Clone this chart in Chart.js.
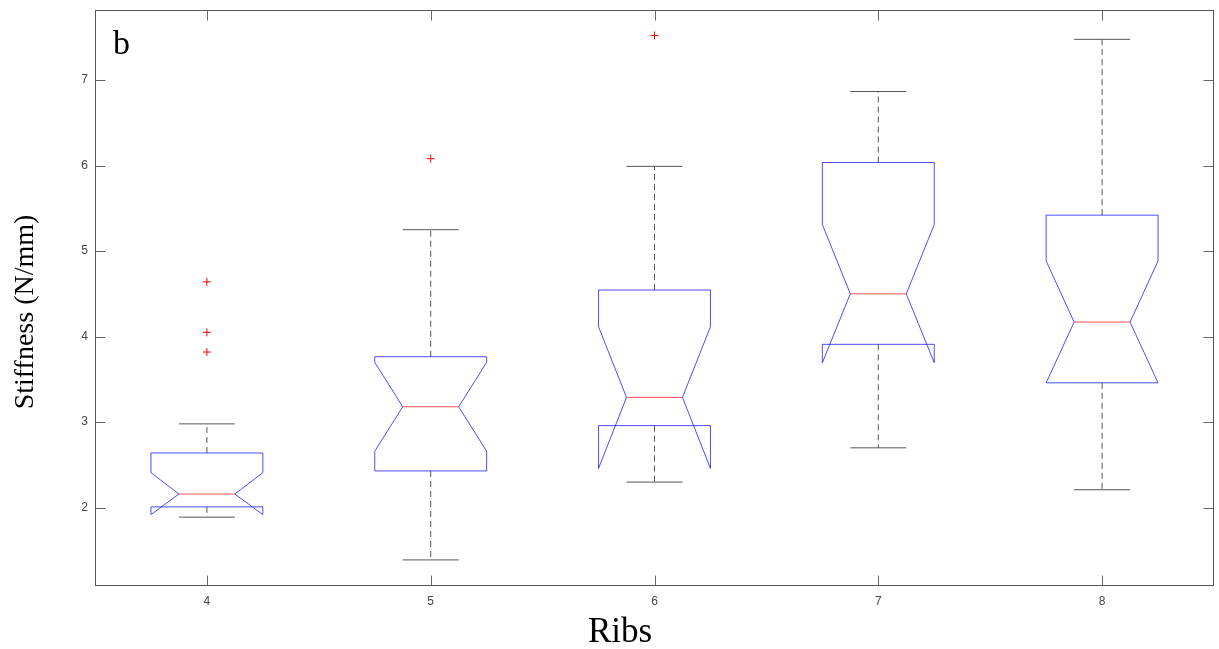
<!DOCTYPE html>
<html>
<head>
<meta charset="utf-8">
<title>Stiffness vs Ribs</title>
<script src="https://cdn.jsdelivr.net/npm/chart.js@4.4.1/dist/chart.umd.min.js"></script>
<style>
  html, body { margin: 0; padding: 0; background: #fff; }
  canvas { display: block; }
</style>
</head>
<body>
<canvas id="stiffnessChart" width="1219" height="649"></canvas>
<script>
// Box statistics per rib count (N/mm)
const ribs = [4, 5, 6, 7, 8];
const lowerWhisker = [1.89, 1.39, 2.30, 2.70, 2.21];
const q1 = [2.01, 2.43, 2.96, 3.91, 3.46];
const median = [2.16, 3.18, 3.29, 4.50, 4.17];
const q3 = [2.64, 3.765, 4.545, 6.035, 5.42];
const upperWhisker = [2.98, 5.25, 5.99, 6.865, 7.475];
const notchLow = [1.92, 2.66, 2.46, 3.695, 3.46];
const notchHigh = [2.41, 3.70, 4.115, 5.31, 4.885];

// Outliers (red crosses)
const outlierRibs = [4, 4, 4, 5, 6];
const outlierValues = [4.64, 4.05, 3.82, 6.08, 7.52];

// Axis ticks
const xTicks = [4, 5, 6, 7, 8];
const yTicks = [2, 3, 4, 5, 6, 7];

const panelLabel = 'b';
const xTitle = 'Ribs';
const yTitle = 'Stiffness (N/mm)';

// Box geometry in x-axis units
const BOX_HALF = 0.25;
const NOTCH_HALF = 0.125;
const CAP_HALF = 0.125;

// Notched boxes, whiskers and caps, drawn under the outlier markers
const notchedBoxPlugin = {
    id: 'notchedBoxes',
    beforeDatasetsDraw(chart) {
        const { ctx, scales: { x, y } } = chart;
        ctx.save();
        ctx.lineWidth = 1;
        ribs.forEach((r, i) => {
            const xc = x.getPixelForValue(r);
            const xl = x.getPixelForValue(r - BOX_HALF);
            const xr = x.getPixelForValue(r + BOX_HALF);
            const nl = x.getPixelForValue(r - NOTCH_HALF);
            const nr = x.getPixelForValue(r + NOTCH_HALF);
            const cl = x.getPixelForValue(r - CAP_HALF);
            const cr = x.getPixelForValue(r + CAP_HALF);
            const yQ1 = y.getPixelForValue(q1[i]);
            const yQ3 = y.getPixelForValue(q3[i]);
            const yMed = y.getPixelForValue(median[i]);
            const yNLo = y.getPixelForValue(notchLow[i]);
            const yNHi = y.getPixelForValue(notchHigh[i]);
            const yLo = y.getPixelForValue(lowerWhisker[i]);
            const yHi = y.getPixelForValue(upperWhisker[i]);

            // dashed whiskers
            ctx.strokeStyle = '#555';
            ctx.setLineDash([6, 4]);
            ctx.beginPath();
            ctx.moveTo(xc, yQ3);
            ctx.lineTo(xc, yHi);
            ctx.moveTo(xc, yQ1);
            ctx.lineTo(xc, yLo);
            ctx.stroke();

            // whisker caps
            ctx.setLineDash([]);
            ctx.beginPath();
            ctx.moveTo(cl, yHi);
            ctx.lineTo(cr, yHi);
            ctx.moveTo(cl, yLo);
            ctx.lineTo(cr, yLo);
            ctx.stroke();

            // notched box outline
            ctx.strokeStyle = 'rgba(0, 0, 255, 0.7)';
            ctx.beginPath();
            ctx.moveTo(xl, yQ3);
            ctx.lineTo(xl, yNHi);
            ctx.lineTo(nl, yMed);
            ctx.lineTo(xl, yNLo);
            ctx.lineTo(xl, yQ1);
            ctx.lineTo(xr, yQ1);
            ctx.lineTo(xr, yNLo);
            ctx.lineTo(nr, yMed);
            ctx.lineTo(xr, yNHi);
            ctx.lineTo(xr, yQ3);
            ctx.closePath();
            ctx.stroke();

            // median
            ctx.strokeStyle = 'rgba(255, 0, 0, 0.7)';
            ctx.beginPath();
            ctx.moveTo(nl, yMed);
            ctx.lineTo(nr, yMed);
            ctx.stroke();
        });
        ctx.restore();
    }
};

// Axes frame with inward ticks on all four sides, plus the text labels
const frameAndTextPlugin = {
    id: 'frameAndText',
    afterDraw(chart) {
        const { ctx, chartArea: a, scales: { x, y } } = chart;
        const L = Math.round(a.left) + 0.5;
        const R = Math.round(a.right) - 0.5;
        const T = Math.round(a.top) + 0.5;
        const B = Math.round(a.bottom) - 0.5;
        const tick = 10;
        ctx.save();
        ctx.lineWidth = 1;
        ctx.strokeStyle = '#666';
        ctx.beginPath();
        xTicks.forEach(v => {
            const px = Math.round(x.getPixelForValue(v)) + 0.5;
            ctx.moveTo(px, B); ctx.lineTo(px, B - tick);
            ctx.moveTo(px, T); ctx.lineTo(px, T + tick);
        });
        yTicks.forEach(v => {
            const py = Math.round(y.getPixelForValue(v)) + 0.5;
            ctx.moveTo(L, py); ctx.lineTo(L + tick, py);
            ctx.moveTo(R, py); ctx.lineTo(R - tick, py);
        });
        ctx.stroke();
        ctx.strokeStyle = '#555';
        ctx.strokeRect(L, T, R - L, B - T);

        ctx.fillStyle = '#000';
        ctx.font = '34px "Liberation Serif", "Times New Roman", serif';
        ctx.textAlign = 'left';
        ctx.textBaseline = 'alphabetic';
        ctx.fillText(panelLabel, 113, 54);

        ctx.font = '35px "Liberation Serif", "Times New Roman", serif';
        ctx.textAlign = 'center';
        ctx.fillText(xTitle, 620, 642);

        ctx.font = '28px "Liberation Serif", "Times New Roman", serif';
        ctx.translate(33, 312);
        ctx.rotate(-Math.PI / 2);
        ctx.fillText(yTitle, 0, 0);
        ctx.restore();
    }
};

const tickFont = { family: '"Liberation Sans", Arial, sans-serif', size: 12 };

// Fixed axis sizes so the plot area sits at the same place every time
function fixScaleSize(scale, size) {
    if (scale.isHorizontal()) {
        scale.height = size;
    } else {
        scale.width = size;
    }
    scale.paddingTop = 0;
    scale.paddingBottom = 0;
    scale.paddingLeft = 0;
    scale.paddingRight = 0;
}

new Chart(document.getElementById('stiffnessChart'), {
    type: 'scatter',
    data: {
        datasets: [{
            label: 'Outliers',
            data: outlierRibs.map((r, i) => ({ x: r, y: outlierValues[i] })),
            pointStyle: 'cross',
            radius: 4,
            borderColor: 'rgb(255, 0, 0)',
            borderWidth: 1,
            backgroundColor: 'rgb(255, 0, 0)'
        }]
    },
    options: {
        responsive: false,
        devicePixelRatio: 1,
        animation: false,
        events: [],
        // Chart.js keeps a few pixels on the right, hence the negative value
        layout: { padding: { top: 10, right: -2, left: 0, bottom: 0 } },
        plugins: {
            legend: { display: false },
            tooltip: { enabled: false }
        },
        scales: {
            x: {
                type: 'linear',
                min: 3.5,
                max: 8.5,
                afterBuildTicks: s => { s.ticks = xTicks.map(v => ({ value: v })); },
                afterFit: s => fixScaleSize(s, 63),
                grid: { display: false, drawTicks: false },
                border: { display: false },
                ticks: { padding: 8, color: '#444', font: tickFont, maxRotation: 0 }
            },
            y: {
                type: 'linear',
                min: 1.085,
                max: 7.818,
                afterBuildTicks: s => { s.ticks = yTicks.map(v => ({ value: v })); },
                afterFit: s => fixScaleSize(s, 95),
                grid: { display: false, drawTicks: false },
                border: { display: false },
                ticks: { padding: 7, color: '#444', font: tickFont }
            }
        }
    },
    plugins: [notchedBoxPlugin, frameAndTextPlugin]
});
</script>
</body>
</html>
